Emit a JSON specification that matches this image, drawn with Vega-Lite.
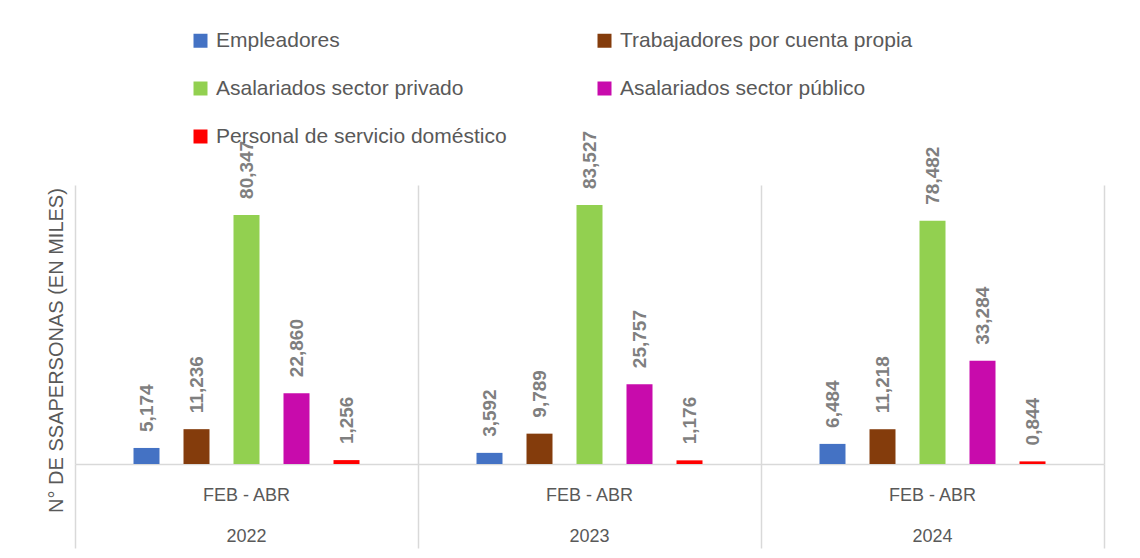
{
  "$schema": "https://vega.github.io/schema/vega-lite/v6.json",
  "width": 1029,
  "height": 279,
  "autosize": {"type": "none"},
  "padding": {"left": 75, "top": 185, "right": 36, "bottom": 94},
  "background": "white",
  "config": {
    "font": "Liberation Sans",
    "view": {"stroke": null},
    "locale": {"number": {"decimal": ",", "thousands": ".", "grouping": [3], "currency": ["", ""]}}
  },
  "data": {
    "values": [
      {"anio": "2022", "categoria": "Empleadores", "valor": 5.174},
      {"anio": "2022", "categoria": "Trabajadores por cuenta propia", "valor": 11.236},
      {"anio": "2022", "categoria": "Asalariados sector privado", "valor": 80.347},
      {"anio": "2022", "categoria": "Asalariados sector público", "valor": 22.860},
      {"anio": "2022", "categoria": "Personal de servicio doméstico", "valor": 1.256},
      {"anio": "2023", "categoria": "Empleadores", "valor": 3.592},
      {"anio": "2023", "categoria": "Trabajadores por cuenta propia", "valor": 9.789},
      {"anio": "2023", "categoria": "Asalariados sector privado", "valor": 83.527},
      {"anio": "2023", "categoria": "Asalariados sector público", "valor": 25.757},
      {"anio": "2023", "categoria": "Personal de servicio doméstico", "valor": 1.176},
      {"anio": "2024", "categoria": "Empleadores", "valor": 6.484},
      {"anio": "2024", "categoria": "Trabajadores por cuenta propia", "valor": 11.218},
      {"anio": "2024", "categoria": "Asalariados sector privado", "valor": 78.482},
      {"anio": "2024", "categoria": "Asalariados sector público", "valor": 33.284},
      {"anio": "2024", "categoria": "Personal de servicio doméstico", "valor": 0.844}
    ]
  },
  "encoding": {
    "x": {
      "field": "anio",
      "type": "nominal",
      "scale": {"paddingInner": 0, "paddingOuter": 0},
      "axis": {
        "title": null,
        "labelAngle": 0,
        "labelExpr": "datum.label ? ['FEB - ABR', datum.label] : ''",
        "labelLineHeight": 41,
        "labelFontSize": 18,
        "labelColor": "#595959",
        "labelPadding": -62,
        "bandPosition": 1,
        "tickExtra": true,
        "tickSize": 84,
        "tickColor": "#D9D9D9",
        "tickWidth": 1.5,
        "grid": true,
        "gridColor": "#D9D9D9",
        "gridWidth": 1.5,
        "domainColor": "#D9D9D9",
        "domainWidth": 1.5
      }
    },
    "xOffset": {
      "field": "categoria",
      "type": "nominal",
      "scale": {
        "domain": ["_inicio", "Empleadores", "Trabajadores por cuenta propia", "Asalariados sector privado", "Asalariados sector público", "Personal de servicio doméstico", "_fin"],
        "paddingInner": 0.48,
        "paddingOuter": 0.17
      }
    },
    "y": {
      "field": "valor",
      "type": "quantitative",
      "scale": {"domain": [0, 90]},
      "axis": {
        "title": "N° DE SSAPERSONAS (EN MILES)",
        "titleFontSize": 20,
        "titleFontWeight": "normal",
        "titleColor": "#595959",
        "titlePadding": 9,
        "titleY": 165,
        "labels": false,
        "ticks": false,
        "domain": false,
        "grid": false
      }
    }
  },
  "layer": [
    {
      "mark": {"type": "bar"},
      "encoding": {
        "color": {
          "field": "categoria",
          "type": "nominal",
          "scale": {
            "domain": ["Empleadores", "Trabajadores por cuenta propia", "Asalariados sector privado", "Asalariados sector público", "Personal de servicio doméstico"],
            "range": ["#4472C4", "#843C0C", "#92D050", "#C80BAC", "#FF0000"]
          },
          "legend": {
            "title": null,
            "orient": "none",
            "direction": "horizontal",
            "legendX": 115,
            "legendY": -155,
            "columns": 2,
            "columnPadding": 87,
            "rowPadding": 26,
            "padding": 0,
            "symbolType": "square",
            "symbolSize": 196,
            "symbolStrokeWidth": 0,
            "labelFontSize": 21,
            "labelColor": "#595959",
            "labelOffset": 5,
            "labelLimit": 600
          }
        }
      }
    },
    {
      "mark": {"type": "text", "angle": -90, "align": "left", "baseline": "middle", "dx": 16, "fontSize": 19, "fontWeight": "bold", "color": "#7F7F7F"},
      "encoding": {
        "text": {"field": "valor", "type": "quantitative", "format": ".3f"}
      }
    }
  ]
}
